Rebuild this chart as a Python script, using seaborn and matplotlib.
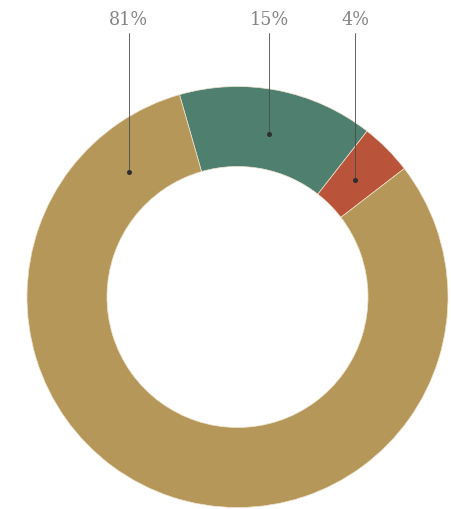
import numpy as np
import matplotlib
matplotlib.use("Agg")
import matplotlib.pyplot as plt
import seaborn as sns

# data
labels = ["15%", "4%", "81%"]
shares = [15, 4, 81]
colors = ["#4f7f6e", "#b9543a", "#b5975a"]

START = 106.0          # degrees, first slice starts here and runs clockwise
CX, CY = 237.5, 212.0  # pie centre in canvas units (y up)
R_OUT, R_IN = 210.5, 130.5
LABEL_Y = 489.0
TAN_ANCHOR_OFFSET = 25.0  # big slice label points near its clockwise end

sns.set_theme(style="white")
plt.rcParams["font.family"] = ["DejaVu Serif", "DejaVu Sans"]

fig = plt.figure(figsize=(4.52, 5.09), dpi=100)
ax = fig.add_axes([0, 0, 1, 1])

wedges, _ = ax.pie(
    shares, colors=colors, startangle=START, counterclock=False,
    center=(CX, CY), radius=R_OUT,
    wedgeprops=dict(width=R_OUT - R_IN, linewidth=0.5, edgecolor="#efe4cf"),
)
ax.set_xlim(0, 452)
ax.set_ylim(0, 509)
ax.set_aspect("equal")
ax.axis("off")

r_anchor = 166.0
for w, lab in zip(wedges, labels):
    if lab == "81%":
        ang = w.theta1 + TAN_ANCHOR_OFFSET
    else:
        ang = (w.theta1 + w.theta2) / 2.0
    a = np.deg2rad(ang)
    x = CX + r_anchor * np.cos(a)
    y = CY + r_anchor * np.sin(a)
    ax.plot([x, x], [y, LABEL_Y - 13], color="#4a4a4a", lw=0.6)
    ax.plot(x, y, "o", color="#2e2e2e", ms=2.6)
    ax.text(x, LABEL_Y, lab, ha="center", va="center",
            fontsize=14, color="#858585", fontstretch="condensed",
            fontweight="light")

fig.savefig("out.png", dpi=100, facecolor="white")
